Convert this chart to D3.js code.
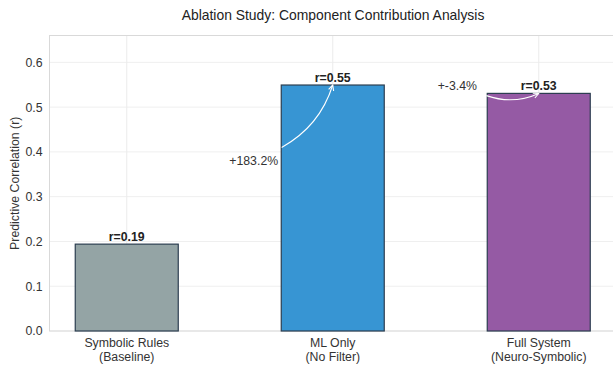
<!DOCTYPE html>
<html><head><meta charset="utf-8">
<script src="https://cdn.jsdelivr.net/npm/d3@7"></script>
<style>body{margin:0;background:#fff}svg{display:block;font-family:"Liberation Sans",Arial,sans-serif}</style>
</head><body><svg id="c" width="613" height="367"></svg>
<script>
const categories = ["Symbolic Rules\n(Baseline)", "ML Only\n(No Filter)", "Full System\n(Neuro-Symbolic)"];
const values = [0.194, 0.5494, 0.5307];
const colors = ["#94a4a5", "#3795d3", "#955aa4"];
const yTicks = [0.0, 0.1, 0.2, 0.3, 0.4, 0.5, 0.6];
// annotations: change from bar `from` to bar `to`, text anchor and arrow start in data coords
const annotations = [
  {to: 1, label: "+183.2%", tx: 0.735, ty: 0.381, sx: 0.752, sy: 0.41},
  {to: 2, label: "+-3.4%", tx: 1.70, ty: 0.549, sx: 1.746, sy: 0.5257}
];

const svg = d3.select("#c");
const L = 49.5, R = 616, T = 35.5, B = 331;
const FS = 12.3;
const x = d3.scaleLinear().domain([-0.375, 2.375]).range([L, R]);
const y = d3.scaleLinear().domain([0, 0.66]).range([B, T]);
const bw = x(0.25) - x(0);

// grid
svg.append("g").selectAll("line").data(yTicks).join("line")
  .attr("x1", L).attr("x2", R).attr("y1", d => y(d)).attr("y2", d => y(d))
  .attr("stroke", "#efefef").attr("stroke-width", 1);
svg.append("g").selectAll("line").data(categories.map((c, i) => i)).join("line")
  .attr("x1", d => x(d)).attr("x2", d => x(d)).attr("y1", T).attr("y2", B)
  .attr("stroke", "#ebebeb").attr("stroke-width", 1);

// spines
svg.append("rect").attr("x", L).attr("y", T).attr("width", R - L).attr("height", B - T)
  .attr("fill", "none").attr("stroke", "#d9d9d9").attr("stroke-width", 1);

// y axis
const ya = d3.axisLeft(y).tickValues(yTicks).tickFormat(d3.format(".1f")).tickSize(0).tickPadding(7);
const yg = svg.append("g").attr("transform", `translate(${L},0)`).call(ya);
yg.select(".domain").remove();
yg.selectAll("text").attr("font-size", FS).attr("fill", "#333").attr("font-family", "Liberation Sans, Arial, sans-serif");

// x axis
const xa = d3.axisBottom(x).tickValues([0, 1, 2]).tickFormat("").tickSize(0);
const xg = svg.append("g").attr("transform", `translate(0,${B})`).call(xa);
xg.select(".domain").remove();
categories.forEach((c, i) => {
  const t = svg.append("text").attr("x", x(i)).attr("y", B + 16).attr("text-anchor", "middle")
    .attr("font-size", FS).attr("fill", "#333");
  c.split("\n").forEach((ln, k) => t.append("tspan").attr("x", x(i)).attr("dy", k ? 14 : 0).text(ln));
});

// bars
svg.append("g").selectAll("rect").data(values).join("rect")
  .attr("x", (d, i) => x(i) - bw).attr("width", 2 * bw)
  .attr("y", d => y(d)).attr("height", d => B - y(d))
  .attr("fill", (d, i) => colors[i])
  .attr("stroke", "#2c3e50").attr("stroke-width", 1.2);

// value labels
svg.append("g").selectAll("text").data(values).join("text")
  .attr("x", (d, i) => x(i)).attr("y", d => y(d) - 3.5).attr("text-anchor", "middle")
  .attr("font-size", FS).attr("font-weight", "bold").attr("fill", "#222")
  .text(d => "r=" + d.toFixed(2));

// annotations
annotations.forEach(a => {
  svg.append("text").attr("x", x(a.tx)).attr("y", y(a.ty)).attr("dy", "0.35em")
    .attr("text-anchor", "end").attr("font-size", FS).attr("fill", "#333").text(a.label);
  const x1 = x(a.sx), y1 = y(a.sy), x2 = x(a.to), y2 = y(values[a.to]);
  const f = 0.2, mx = (x1 + x2) / 2, my = (y1 + y2) / 2, dx = x2 - x1, dy = y2 - y1;
  const cx = mx - f * dy, cy = my + f * dx;
  const p = d3.path(); p.moveTo(x1, y1); p.quadraticCurveTo(cx, cy, x2, y2);
  svg.append("path").attr("d", p.toString()).attr("fill", "none").attr("stroke", "#fff").attr("stroke-width", 1.1);
  const ang = Math.atan2(y2 - cy, x2 - cx), h = 6, s = 0.45;
  const hp = d3.path();
  hp.moveTo(x2 - h * Math.cos(ang - s), y2 - h * Math.sin(ang - s));
  hp.lineTo(x2, y2);
  hp.lineTo(x2 - h * Math.cos(ang + s), y2 - h * Math.sin(ang + s));
  svg.append("path").attr("d", hp.toString()).attr("fill", "none").attr("stroke", "#fff").attr("stroke-width", 1.1);
});

// title & y label
svg.append("text").attr("x", 333).attr("y", 20).attr("text-anchor", "middle")
  .attr("font-size", 13.9).attr("fill", "#222").text("Ablation Study: Component Contribution Analysis");
svg.append("text").attr("transform", `translate(19,${(T + B) / 2}) rotate(-90)`).attr("text-anchor", "middle")
  .attr("font-size", FS).attr("fill", "#333").text("Predictive Correlation (r)");
</script></body></html>
